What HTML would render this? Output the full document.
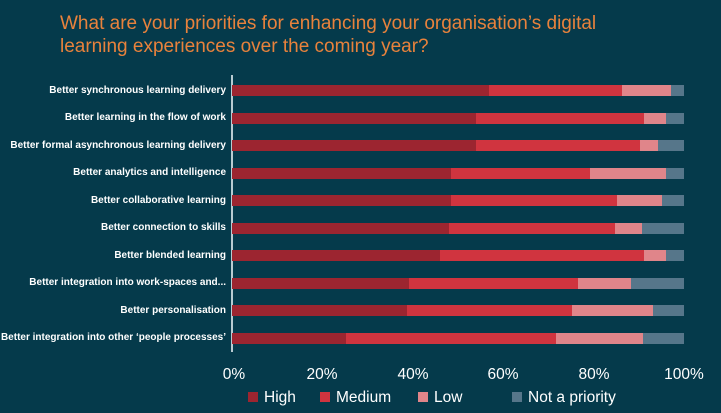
<!DOCTYPE html>
<html><head><style>
body{margin:0;width:721px;height:413px;background:#053a4b;overflow:hidden;font-family:"Liberation Sans",sans-serif;position:relative}
.t{position:absolute;left:60px;top:12px;color:#e8823c;font-size:19px;line-height:23px}
.l{position:absolute;right:495px;color:#fff;font-size:10px;font-weight:bold;white-space:nowrap;line-height:12px}
.b{position:absolute;height:11px}
.x{position:absolute;top:366px;color:#fff;font-size:15.5px;transform:translateX(-50%)}
.lg{position:absolute;top:389px;color:#fff;font-size:15.5px}
.sq{display:inline-block;width:10px;height:10px;margin-right:6px;vertical-align:0}
</style></head><body>
<div class="t">What are your priorities for enhancing your organisation’s digital<br>learning experiences over the coming year?</div>
<div style="position:absolute;left:231px;top:75px;width:1.5px;height:277px;background:#b9cbd1"></div>
<div id="c"></div>
<div class="x" style="left:234px">0%</div>
<div class="x" style="left:322px">20%</div>
<div class="x" style="left:413px">40%</div>
<div class="x" style="left:503px">60%</div>
<div class="x" style="left:594px">80%</div>
<div class="x" style="left:684px">100%</div>
<div class="lg" style="left:248px"><span class="sq" style="background:#9c2530"></span>High</div>
<div class="lg" style="left:320px"><span class="sq" style="background:#d0343f"></span>Medium</div>
<div class="lg" style="left:418px"><span class="sq" style="background:#e0858a"></span>Low</div>
<div class="lg" style="left:512px"><span class="sq" style="background:#56768a"></span>Not a priority</div>
<script>
var L=["Better synchronous learning delivery","Better learning in the flow of work","Better formal asynchronous learning delivery","Better analytics and intelligence","Better collaborative learning","Better connection to skills","Better blended learning","Better integration into work-spaces and...","Better personalisation","Better integration into other ‘people processes’"];
var D=[[489,622,671],[476,644,666],[476,640,658],[451,590,666],[451,617,662],[449,615,642],[440,644,666],[409,578,631],[407,572,653],[346,556,643]];
var C=["#9c2530","#d0343f","#e0858a","#56768a"],h="";
for(var i=0;i<10;i++){var y=85+27.5*i,p=[232].concat(D[i],[684]);
h+='<div class="l" style="top:'+(y-0.5)+'px">'+L[i]+'</div>';
for(var j=0;j<4;j++)h+='<div class="b" style="top:'+y+'px;left:'+p[j]+'px;width:'+(p[j+1]-p[j])+'px;background:'+C[j]+'"></div>';}
document.getElementById("c").innerHTML=h;
</script>
</body></html>
